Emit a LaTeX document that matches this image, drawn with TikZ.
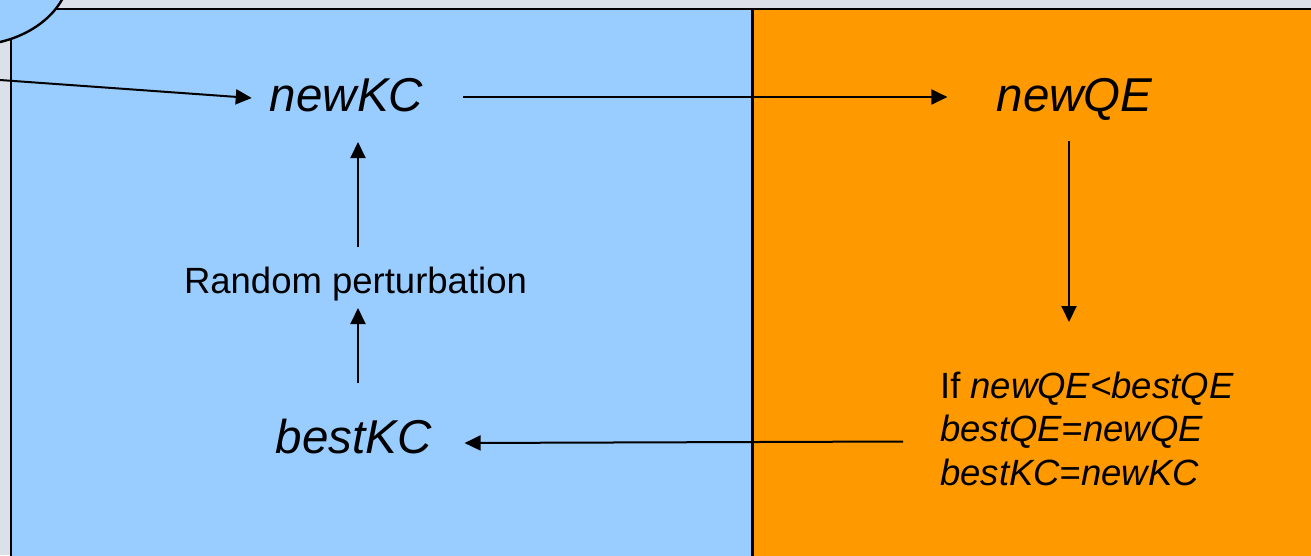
\documentclass[tikz,border=0pt]{standalone}
\usepackage{fontspec}
\setmainfont{Liberation Sans}
\usetikzlibrary{arrows.meta,calc}
\definecolor{panelblue}{HTML}{99CCFF}
\definecolor{panelorange}{HTML}{FF9900}
\definecolor{slidegrey}{HTML}{DCE0E8}

\begin{document}
\begin{tikzpicture}[x=1pt,y=-1pt,
  arr/.style={line width=2pt, -{Triangle[length=16pt,width=15pt]}},
  varname/.style={font=\fontsize{47.5}{57}\selectfont\itshape, inner sep=0pt, anchor=base},
  note/.style={font=\fontsize{36.5}{43.5}\selectfont, inner sep=0pt},
  frame/.style={draw=black, line width=2.4pt}]
\useasboundingbox (0,0) rectangle (1311,555);
\fill[slidegrey] (0,0) rectangle (1311,555);

% the two panels
\fill[panelblue] (11,9) rectangle (752,570);
\fill[panelorange] (752,9) rectangle (1330,570);
\draw[frame] (11,570) -- (11,9) -- (1330,9);
\draw[line width=3pt] (752,9) -- (752,570);

% ellipse in the upper left corner
\draw[frame, fill=panelblue] (-30,-30) ellipse [x radius=100, y radius=75.5];

% labels
\node[varname] (newKC) at (346.5,111) {newKC};
\node[varname] (newQE) at (1074.5,111) {newQE};
\node[varname] (bestKC) at (353.5,453) {bestKC};
\node[note, anchor=base] (perturb) at (355.5,293) {Random perturbation};
\node[note, anchor=base west] (cond1) at (940,398) {If \textit{newQE<bestQE}};
\node[note, anchor=base west] (cond2) at (940,441.5) {\textit{bestQE=newQE}};
\node[note, anchor=base west] (cond3) at (940,485) {\textit{bestKC=newKC}};

% connectors
\coordinate (inlet) at (0,80);
\draw[arr] (inlet) -- ($(newKC.base west)+(-18,-13)$);
\draw[arr] ($(newKC.base east)+(40,-14)$) -- ($(newQE.base west)+(-49,-14)$);
\draw[arr] ($(newQE.base)+(-5.5,30)$) -- ($(cond1.base west)+(129,-76)$);
\draw[arr] ($(cond2.base west)+(-37,0)$) -- ($(bestKC.base east)+(33,-10)$);
\draw[arr] ($(bestKC.base)+(4.5,-70)$) -- ($(perturb.base)+(2.5,15)$);
\draw[arr] ($(perturb.base)+(2.5,-46)$) -- ($(newKC.base)+(11.5,31)$);
\end{tikzpicture}
\end{document}
